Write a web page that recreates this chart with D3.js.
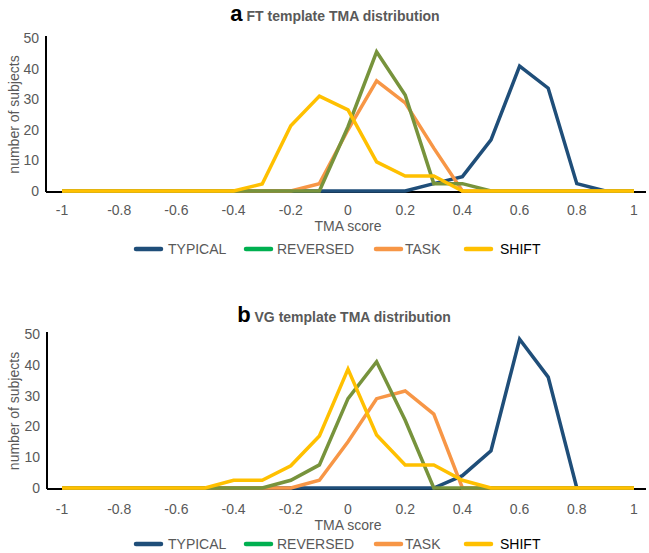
<!DOCTYPE html>
<html>
<head>
<meta charset="utf-8">
<script src="https://cdn.jsdelivr.net/npm/d3@7"></script>
<style>
  html, body { margin: 0; padding: 0; background: #fff; }
  svg { display: block; font-family: "Liberation Sans", Arial, sans-serif; }
</style>
</head>
<body>
<svg id="chart" width="649" height="553"></svg>
<script>
// ---- data ----
const xValues = [-1, -0.9, -0.8, -0.7, -0.6, -0.5, -0.4, -0.3, -0.2, -0.1, 0, 0.1, 0.2, 0.3, 0.4, 0.5, 0.6, 0.7, 0.8, 0.9, 1];
const xTickValues = [-1, -0.8, -0.6, -0.4, -0.2, 0, 0.2, 0.4, 0.6, 0.8, 1];
const xTickLabels = ["-1", "-0.8", "-0.6", "-0.4", "-0.2", "0", "0.2", "0.4", "0.6", "0.8", "1"];
const yTickValues = [0, 10, 20, 30, 40, 50];
const seriesNames = ["TYPICAL", "REVERSED", "TASK", "SHIFT"];

const typicalA  = [0,0,0,0,0,0,0,0,0,0,0,0,0,2.4,4.7,16.7,40.8,33.6,2.4,0,0];
const reversedA = [0,0,0,0,0,0,0,0,0,0,21,45.5,31.4,2.4,2.4,0,0,0,0,0,0];
const taskA     = [0,0,0,0,0,0,0,0,0,2.4,20,36,28.8,14,0,0,0,0,0,0,0];
const shiftA    = [0,0,0,0,0,0,0,2.3,21.3,31,26.5,9.5,4.9,4.9,0,0,0,0,0,0,0];

const typicalB  = [0,0,0,0,0,0,0,0,0,0,0,0,0,0,4,12.1,48.3,36,0,0,0];
const reversedB = [0,0,0,0,0,0,0,0,2.5,7.5,29,41,22,0,0,0,0,0,0,0,0];
const taskB     = [0,0,0,0,0,0,0,0,0,2.5,15,29,31.5,24,0,0,0,0,0,0,0];
const shiftB    = [0,0,0,0,0,0,2.5,2.5,7.2,16.9,38.6,17.2,7.5,7.5,2.5,0,0,0,0,0,0];

const panelLetters = ["a", "b"];
const panelTitles = ["FT template TMA distribution", "VG template TMA distribution"];

// ---- styles ----
const lineColors = { TYPICAL: "#1f4e79", REVERSED: "#77933c", TASK: "#f79646", SHIFT: "#ffc000" };
const legendColors = { TYPICAL: "#1f4e79", REVERSED: "#00b050", TASK: "#f79646", SHIFT: "#ffc000" };
const gray = "#595959";
const drawOrder = ["TYPICAL", "TASK", "REVERSED", "SHIFT"];

const svg = d3.select("#chart");

const panels = [
  { letter: panelLetters[0], title: panelTitles[0], data: { TYPICAL: typicalA, REVERSED: reversedA, TASK: taskA, SHIFT: shiftA },
    axisX: 46, y0: 191, y50: 38, titleY: 21, titleX: 335, tickY: 215, labelY: 231, legendY: 249 },
  { letter: panelLetters[1], title: panelTitles[1], data: { TYPICAL: typicalB, REVERSED: reversedB, TASK: taskB, SHIFT: shiftB },
    axisX: 47, y0: 488, y50: 334, titleY: 322, titleX: 344, tickY: 514, labelY: 530, legendY: 544 }
];

panels.forEach(p => {
  const g = svg.append("g");
  const x = d3.scaleLinear().domain([-1, 1]).range([62, 634]);
  const y = d3.scaleLinear().domain([0, 50]).range([p.y0, p.y50]);

  // title
  const t = g.append("text").attr("y", p.titleY).attr("text-anchor", "middle").attr("x", p.titleX);
  t.append("tspan").text(p.letter).attr("font-size", 22).attr("font-weight", "bold").attr("fill", "#000");
  t.append("tspan").text(" " + p.title).attr("font-size", 14).attr("font-weight", "bold").attr("fill", gray);

  // y axis
  const yAxis = d3.axisLeft(y).tickValues(yTickValues).tickSize(0).tickPadding(7);
  const ya = g.append("g").attr("transform", `translate(${p.axisX},0)`).call(yAxis);
  ya.select(".domain").attr("stroke", "#000").attr("stroke-width", 2).attr("d", `M0,${p.y50 - 2}V${p.y0 + 1}`);
  ya.selectAll("text").attr("font-size", 14).attr("fill", gray).attr("font-family", "Liberation Sans, Arial, sans-serif");

  // x axis line
  g.append("line").attr("x1", p.axisX).attr("x2", 646).attr("y1", p.y0 + 1).attr("y2", p.y0 + 1)
    .attr("stroke", "#000").attr("stroke-width", 2);

  // x tick labels
  g.append("g").selectAll("text").data(xTickValues).join("text")
    .attr("x", d => x(d)).attr("y", p.tickY)
    .attr("text-anchor", "middle").attr("font-size", 14).attr("fill", gray)
    .text((d, i) => xTickLabels[i]);

  // axis titles
  g.append("text").attr("x", 348).attr("y", p.labelY).attr("text-anchor", "middle")
    .attr("font-size", 14).attr("fill", gray).text("TMA score");
  g.append("text").attr("transform", `translate(19,${(p.y0 + p.y50) / 2}) rotate(-90)`)
    .attr("text-anchor", "middle").attr("font-size", 14).attr("fill", gray).text("number of subjects");

  // lines
  const line = d3.line().x((d, i) => x(xValues[i])).y(d => y(d));
  drawOrder.forEach(name => {
    g.append("path").datum(p.data[name]).attr("d", line)
      .attr("fill", "none").attr("stroke", lineColors[name]).attr("stroke-width", 3.5)
      .attr("stroke-linejoin", "miter");
  });

  // legend
  const legendPos = [
    { name: "TYPICAL", sx: 136, tx: 168, color: gray },
    { name: "REVERSED", sx: 246, tx: 277, color: gray },
    { name: "TASK", sx: 376, tx: 405, color: gray },
    { name: "SHIFT", sx: 466, tx: 500, color: "#000" }
  ];
  legendPos.forEach(l => {
    g.append("line").attr("x1", l.sx).attr("x2", l.sx + 25).attr("y1", p.legendY).attr("y2", p.legendY)
      .attr("stroke", legendColors[l.name]).attr("stroke-width", 4.5).attr("stroke-linecap", "round");
    g.append("text").attr("x", l.tx).attr("y", p.legendY + 5).attr("font-size", 14).attr("fill", l.color).text(l.name);
  });
});
</script>
</body>
</html>
